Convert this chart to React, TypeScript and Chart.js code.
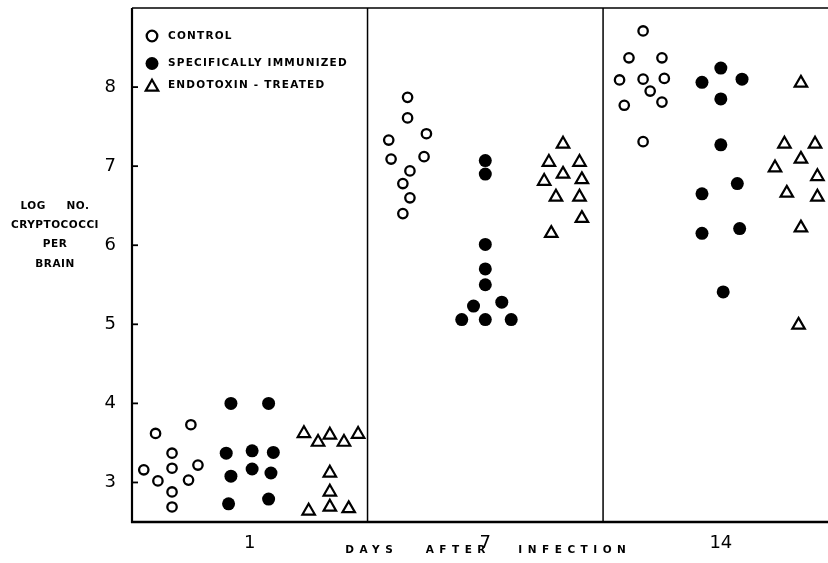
import React, { useEffect, useRef } from 'react';
import { Chart, registerables } from 'chart.js';

Chart.register(...registerables);

// Categories (days after infection) and axis ticks
const dayLabels = ['1', '7', '14'];
const yTickValues = [3, 4, 5, 6, 7, 8];
const panelBreaks = [1, 2];

// x = panel index + position within panel (0..1), y = log no. cryptococci per brain
const controlX = [0.10, 0.25, 0.17, 0.05, 0.17, 0.28, 0.11, 0.24, 0.17, 0.17,
  1.17, 1.17, 1.09, 1.25, 1.10, 1.24, 1.18, 1.15, 1.18, 1.15,
  2.17, 2.11, 2.25, 2.07, 2.17, 2.26, 2.20, 2.09, 2.25, 2.17];
const controlY = [3.62, 3.73, 3.37, 3.16, 3.18, 3.22, 3.02, 3.03, 2.88, 2.69,
  7.87, 7.61, 7.33, 7.41, 7.09, 7.12, 6.94, 6.78, 6.60, 6.40,
  8.71, 8.37, 8.37, 8.09, 8.10, 8.11, 7.95, 7.77, 7.81, 7.31];

const immunizedX = [0.42, 0.58, 0.40, 0.51, 0.60, 0.42, 0.51, 0.59, 0.41, 0.58,
  1.50, 1.50, 1.50, 1.50, 1.50, 1.45, 1.57, 1.40, 1.50, 1.61,
  2.50, 2.42, 2.59, 2.50, 2.50, 2.57, 2.42, 2.42, 2.58, 2.51];
const immunizedY = [4.00, 4.00, 3.37, 3.40, 3.38, 3.08, 3.17, 3.12, 2.73, 2.79,
  7.07, 6.90, 6.01, 5.70, 5.50, 5.23, 5.28, 5.06, 5.06, 5.06,
  8.24, 8.06, 8.10, 7.85, 7.27, 6.78, 6.65, 6.15, 6.21, 5.41];

const endotoxinX = [0.73, 0.79, 0.84, 0.90, 0.96, 0.84, 0.84, 0.75, 0.84, 0.92,
  1.83, 1.77, 1.90, 1.83, 1.75, 1.91, 1.80, 1.90, 1.91, 1.78,
  2.84, 2.77, 2.90, 2.84, 2.73, 2.91, 2.78, 2.91, 2.84, 2.83];
const endotoxinY = [3.62, 3.51, 3.60, 3.51, 3.61, 3.12, 2.88, 2.64, 2.69, 2.67,
  7.28, 7.05, 7.05, 6.90, 6.81, 6.83, 6.61, 6.61, 6.34, 6.15,
  8.05, 7.28, 7.28, 7.09, 6.98, 6.87, 6.66, 6.61, 6.22, 4.99];

const legendLabels = ['CONTROL', 'SPECIFICALLY IMMUNIZED', 'ENDOTOXIN - TREATED'];
const yTitleLines = ['LOG     NO.', 'CRYPTOCOCCI', 'PER', 'BRAIN'];
const xTitle = 'DAYS   AFTER   INFECTION';

const toPoints = (xs: number[], ys: number[]) => xs.map((x, i) => ({ x, y: ys[i] }));

const LABEL_FONT = 'bold 10.5px "DejaVu Sans"';

function seg(ctx: CanvasRenderingContext2D, x1: number, y1: number, x2: number, y2: number, w: number) {
  ctx.lineWidth = w;
  ctx.beginPath();
  ctx.moveTo(x1, y1);
  ctx.lineTo(x2, y2);
  ctx.stroke();
}

function marker(ctx: CanvasRenderingContext2D, kind: number, x: number, y: number) {
  ctx.strokeStyle = '#000';
  ctx.fillStyle = '#000';
  if (kind === 0) {
    ctx.lineWidth = 2.3;
    ctx.beginPath();
    ctx.arc(x, y, 5.3, 0, Math.PI * 2);
    ctx.stroke();
  } else if (kind === 1) {
    ctx.beginPath();
    ctx.arc(x, y, 6.5, 0, Math.PI * 2);
    ctx.fill();
  } else {
    const r = 7.2;
    ctx.lineWidth = 2.2;
    ctx.beginPath();
    for (let k = 0; k < 3; k++) {
      const a = k * (2 * Math.PI / 3);
      const px = x + Math.sin(a) * r;
      const py = y - Math.cos(a) * r + 1.5;
      if (k === 0) ctx.moveTo(px, py); else ctx.lineTo(px, py);
    }
    ctx.closePath();
    ctx.stroke();
  }
}

const zeroPad = (s: any) => {
  s.paddingTop = 0;
  s.paddingBottom = 0;
  s.paddingLeft = 0;
  s.paddingRight = 0;
};

const decor = {
  id: 'decor',
  beforeDatasetsDraw(chart: any) {
    const { ctx, chartArea: a, scales } = chart;
    const xs = scales.x;
    const ys = scales.y;
    ctx.save();
    ctx.strokeStyle = '#000';
    seg(ctx, a.left, a.top, a.right, a.top, 1.5);
    seg(ctx, a.left, a.top, a.left, a.bottom + 1, 2.2);
    seg(ctx, a.left - 1, a.bottom, a.right, a.bottom, 2.5);
    panelBreaks.forEach((v) => {
      const px = xs.getPixelForValue(v);
      seg(ctx, px, a.top, px, a.bottom, 1.5);
    });
    yTickValues.forEach((t) => {
      const py = ys.getPixelForValue(t);
      seg(ctx, a.left, py, a.left + 6, py, 1.8);
    });
    ctx.restore();
  },
  afterDraw(chart: any) {
    const { ctx, chartArea: a, scales } = chart;
    ctx.save();
    ctx.fillStyle = '#000';
    ctx.textBaseline = 'middle';
    // y title (horizontal, stacked lines)
    ctx.font = LABEL_FONT;
    (ctx as any).letterSpacing = '0.5px';
    ctx.textAlign = 'center';
    yTitleLines.forEach((t, i) => {
      ctx.fillText(t, 55, 206 + i * 19.3);
    });
    // x title
    ctx.font = 'bold 10.5px "DejaVu Sans"';
    (ctx as any).letterSpacing = '5.5px';
    ctx.fillText(xTitle, scales.x.getPixelForValue(1.5) + 3, 550);
    // legend
    (ctx as any).letterSpacing = '1.2px';
    ctx.font = LABEL_FONT;
    ctx.textAlign = 'left';
    const rows = [a.top + 28, a.top + 55.5, a.top + 77.5];
    legendLabels.forEach((t, i) => {
      marker(ctx, i, a.left + 20, rows[i]);
      ctx.fillStyle = '#000';
      ctx.fillText(t, a.left + 36, rows[i]);
    });
    ctx.restore();
  },
};

export default function App() {
  const ref = useRef<HTMLCanvasElement | null>(null);

  useEffect(() => {
    if (!ref.current) return;
    const chart = new Chart(ref.current, {
      type: 'scatter',
      data: {
        datasets: [
          {
            label: legendLabels[0],
            data: toPoints(controlX, controlY),
            pointStyle: 'circle',
            pointRadius: 4.7,
            pointBorderWidth: 2.3,
            borderColor: '#000',
            backgroundColor: '#fff',
          },
          {
            label: legendLabels[1],
            data: toPoints(immunizedX, immunizedY),
            pointStyle: 'circle',
            pointRadius: 6.5,
            pointBorderWidth: 0,
            borderColor: '#000',
            backgroundColor: '#000',
          },
          {
            label: legendLabels[2],
            data: toPoints(endotoxinX, endotoxinY),
            pointStyle: 'triangle',
            pointRadius: 7.2,
            pointBorderWidth: 2.2,
            borderColor: '#000',
            backgroundColor: 'rgba(255,255,255,0)',
          },
        ],
      },
      options: {
        animation: false,
        responsive: false,
        devicePixelRatio: 1,
        layout: { autoPadding: false, padding: { top: 8, right: 0, bottom: 0, left: 0 } },
        plugins: {
          legend: { display: false },
          tooltip: { enabled: false },
        },
        scales: {
          x: {
            type: 'linear',
            min: 0,
            max: 2.955,
            grid: { display: false },
            border: { display: false },
            afterBuildTicks: (s: any) => {
              s.ticks = dayLabels.map((_, i) => ({ value: i + 0.5 }));
            },
            afterFit: (s: any) => {
              s.height = 41;
              zeroPad(s);
            },
            ticks: {
              color: '#000',
              padding: 3,
              maxRotation: 0,
              autoSkip: false,
              font: { family: '"DejaVu Sans"', size: 18 },
              callback: (v: any) => dayLabels[Math.floor(Number(v))] ?? '',
            },
          },
          y: {
            type: 'linear',
            min: 2.5,
            max: 9.0,
            grid: { display: false },
            border: { display: false },
            afterBuildTicks: (s: any) => {
              s.ticks = yTickValues.map((v) => ({ value: v }));
            },
            afterFit: (s: any) => {
              s.width = 132;
              zeroPad(s);
            },
            ticks: {
              color: '#000',
              padding: 8,
              autoSkip: false,
              font: { family: '"DejaVu Sans"', size: 18 },
              callback: (v: any) => String(v),
            },
          },
        },
      },
      plugins: [decor],
    });
    return () => chart.destroy();
  }, []);

  return (
    <div style={{ position: 'absolute', left: 0, top: 0, width: 828, height: 563, background: '#fff' }}>
      <canvas ref={ref} width={828} height={563} style={{ display: 'block' }} />
    </div>
  );
}
